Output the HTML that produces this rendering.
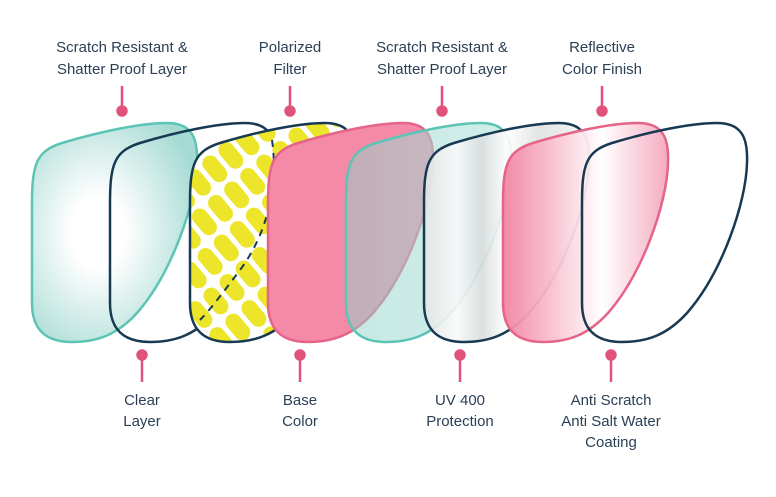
<!DOCTYPE html>
<html><head><meta charset="utf-8"><style>
html,body{margin:0;padding:0;background:#fff;width:776px;height:497px;overflow:hidden}
text{font-family:"Liberation Sans",sans-serif;font-size:15px;fill:#2b3f56;text-anchor:middle}
</style></head><body>
<svg width="776" height="497" viewBox="0 0 776 497" xmlns="http://www.w3.org/2000/svg">
<defs>
<path id="L" d="M0,80 C0,40 5,28 30,20 C70,8 110,0 135,0 C160,0 166,15 165,40 C164,80 140,150 105,190 C85,212 65,219 40,219 C12,219 0,205 0,180 Z"/>
<radialGradient id="tg" cx="0.4" cy="0.5" r="0.65"><stop offset="0.25" stop-color="#ffffff"/><stop offset="1" stop-color="#a5dad3"/></radialGradient>
<linearGradient id="tg2" x1="0" y1="0" x2="1" y2="0"><stop offset="0" stop-color="#8fd2c8" stop-opacity="0.5"/><stop offset="1" stop-color="#b5e3dd" stop-opacity="0.6"/></linearGradient>
<linearGradient id="sg" x1="0" y1="0" x2="1" y2="0"><stop offset="0" stop-color="#e2e5e5"/><stop offset="0.2" stop-color="#f8f9f9"/><stop offset="0.35" stop-color="#d9dddd"/><stop offset="0.5" stop-color="#ffffff"/><stop offset="0.7" stop-color="#dfe2e2"/><stop offset="1" stop-color="#f4f5f5"/></linearGradient>
<linearGradient id="pg" x1="0" y1="0" x2="1" y2="0"><stop offset="0" stop-color="#f283a3"/><stop offset="0.6" stop-color="#ffffff"/><stop offset="1" stop-color="#f4a6bd"/></linearGradient>
<pattern id="yp" width="21" height="34" patternUnits="userSpaceOnUse" patternTransform="rotate(-40)">
<rect width="21" height="34" fill="#fff"/>
<rect x="2.5" y="2" width="16" height="30" rx="8" fill="#ece52a"/>
</pattern>
</defs>
<use href="#L" x="32" y="123" fill="url(#tg)" stroke="#5cc4b4" stroke-width="2.5"/>
<use href="#L" x="110" y="123" fill="none" stroke="#173a52" stroke-width="2.5"/>
<use href="#L" x="190" y="123" fill="url(#yp)" stroke="#173a52" stroke-width="2.5"/>
<path d="M272,140 C278,180 270,230 240,270 C225,290 210,310 200,320" fill="none" stroke="#173a52" stroke-width="2" stroke-dasharray="7,6"/>
<use href="#L" x="268" y="123" fill="#f48aa8" stroke="#e56488" stroke-width="2.5"/>
<use href="#L" x="346" y="123" fill="url(#tg2)" stroke="#5cc4b4" stroke-width="2.5"/>
<use href="#L" x="424" y="123" fill="url(#sg)" fill-opacity="0.9" stroke="#173a52" stroke-width="2.5"/>
<use href="#L" x="503" y="123" fill="url(#pg)" fill-opacity="0.95" stroke="#e56488" stroke-width="2.5"/>
<use href="#L" x="582" y="123" fill="none" stroke="#173a52" stroke-width="2.5"/>

<g stroke="#e0547c" stroke-width="2.5" fill="#e0547c">
<line x1="122" y1="86" x2="122" y2="110"/><circle cx="122" cy="111" r="4.5"/>
<line x1="290" y1="86" x2="290" y2="110"/><circle cx="290" cy="111" r="4.5"/>
<line x1="442" y1="86" x2="442" y2="110"/><circle cx="442" cy="111" r="4.5"/>
<line x1="602" y1="86" x2="602" y2="110"/><circle cx="602" cy="111" r="4.5"/>
<line x1="142" y1="355" x2="142" y2="382"/><circle cx="142" cy="355" r="4.5"/>
<line x1="300" y1="355" x2="300" y2="382"/><circle cx="300" cy="355" r="4.5"/>
<line x1="460" y1="355" x2="460" y2="382"/><circle cx="460" cy="355" r="4.5"/>
<line x1="611" y1="355" x2="611" y2="382"/><circle cx="611" cy="355" r="4.5"/>
</g>

<text x="122" y="52">Scratch Resistant &amp;</text>
<text x="122" y="74">Shatter Proof Layer</text>
<text x="290" y="52">Polarized</text>
<text x="290" y="74">Filter</text>
<text x="442" y="52">Scratch Resistant &amp;</text>
<text x="442" y="74">Shatter Proof Layer</text>
<text x="602" y="52">Reflective</text>
<text x="602" y="74">Color Finish</text>

<text x="142" y="405">Clear</text>
<text x="142" y="426">Layer</text>
<text x="300" y="405">Base</text>
<text x="300" y="426">Color</text>
<text x="460" y="405">UV 400</text>
<text x="460" y="426">Protection</text>
<text x="611" y="405">Anti Scratch</text>
<text x="611" y="426">Anti Salt Water</text>
<text x="611" y="447">Coating</text>
</svg>
</body></html>
